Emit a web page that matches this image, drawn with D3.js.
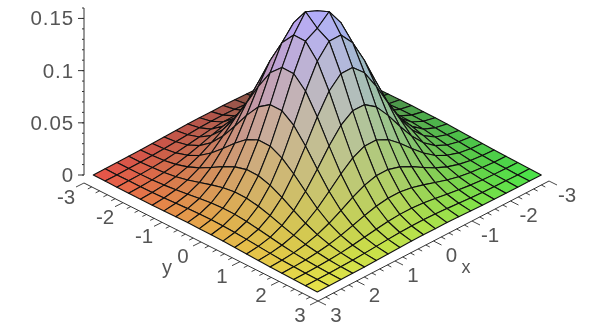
<!DOCTYPE html>
<html lang="en">
<head>
    <meta charset="UTF-8">
    <title>Surface plot</title>
    <style>
        html, body { margin: 0; padding: 0; background: #fff; }
        svg { display: block; }
        text { font-family: "Liberation Sans", Arial, sans-serif; fill: #555; }
    </style>
</head>
<body>
    <div id="chart"></div>
    <script src="https://d3js.org/d3.v7.min.js"></script>
    <script>
        // grid lines of the surface, same for x and y
        const gridX = [-3, -2.684, -2.368, -2.053, -1.737, -1.421, -1.105, -0.789, -0.474, -0.158, 0.158, 0.474, 0.789, 1.105, 1.421, 1.737, 2.053, 2.368, 2.684, 3];
        const gridY = [-3, -2.684, -2.368, -2.053, -1.737, -1.421, -1.105, -0.789, -0.474, -0.158, 0.158, 0.474, 0.789, 1.105, 1.421, 1.737, 2.053, 2.368, 2.684, 3];

        // surface height in thousandths, one row per gridX, one column per gridY
        const zMilli = [
            [0, .1, .1, .2, .4, .6, 1, 1.3, 1.6, 1.7, 1.7, 1.6, 1.3, 1, .6, .4, .2, .1, .1, 0],
            [.1, .1, .3, .5, 1, 1.6, 2.4, 3.2, 3.9, 4.3, 4.3, 3.9, 3.2, 2.4, 1.6, 1, .5, .3, .1, .1],
            [.1, .3, .6, 1.2, 2.1, 3.5, 5.2, 7, 8.6, 9.5, 9.5, 8.6, 7, 5.2, 3.5, 2.1, 1.2, .6, .3, .1],
            [.2, .5, 1.2, 2.4, 4.3, 7.1, 10.5, 14.2, 17.3, 19.1, 19.1, 17.3, 14.2, 10.5, 7.1, 4.3, 2.4, 1.2, .5, .2],
            [.4, 1, 2.1, 4.3, 7.8, 12.8, 19.1, 25.8, 31.5, 34.8, 34.8, 31.5, 25.8, 19.1, 12.8, 7.8, 4.3, 2.1, 1, .4],
            [.6, 1.6, 3.5, 7.1, 12.8, 21.1, 31.5, 42.4, 51.8, 57.3, 57.3, 51.8, 42.4, 31.5, 21.1, 12.8, 7.1, 3.5, 1.6, .6],
            [1, 2.4, 5.2, 10.5, 19.1, 31.5, 46.9, 63.3, 77.3, 85.4, 85.4, 77.3, 63.3, 46.9, 31.5, 19.1, 10.5, 5.2, 2.4, 1],
            [1.3, 3.2, 7, 14.2, 25.8, 42.4, 63.3, 85.3, 104.2, 115.1, 115.1, 104.2, 85.3, 63.3, 42.4, 25.8, 14.2, 7, 3.2, 1.3],
            [1.6, 3.9, 8.6, 17.3, 31.5, 51.8, 77.3, 104.2, 127.2, 140.5, 140.5, 127.2, 104.2, 77.3, 51.8, 31.5, 17.3, 8.6, 3.9, 1.6],
            [1.7, 4.3, 9.5, 19.1, 34.8, 57.3, 85.4, 115.1, 140.5, 152, 157, 140.5, 115.1, 85.4, 57.3, 34.8, 19.1, 9.5, 4.3, 1.7],
            [1.7, 4.3, 9.5, 19.1, 34.8, 57.3, 85.4, 115.1, 140.5, 157, 147, 140.5, 115.1, 85.4, 57.3, 34.8, 19.1, 9.5, 4.3, 1.7],
            [1.6, 3.9, 8.6, 17.3, 31.5, 51.8, 77.3, 104.2, 127.2, 140.5, 140.5, 127.2, 104.2, 77.3, 51.8, 31.5, 17.3, 8.6, 3.9, 1.6],
            [1.3, 3.2, 7, 14.2, 25.8, 42.4, 63.3, 85.3, 104.2, 115.1, 115.1, 104.2, 85.3, 63.3, 42.4, 25.8, 14.2, 7, 3.2, 1.3],
            [1, 2.4, 5.2, 10.5, 19.1, 31.5, 46.9, 63.3, 77.3, 85.4, 85.4, 77.3, 63.3, 46.9, 31.5, 19.1, 10.5, 5.2, 2.4, 1],
            [.6, 1.6, 3.5, 7.1, 12.8, 21.1, 31.5, 42.4, 51.8, 57.3, 57.3, 51.8, 42.4, 31.5, 21.1, 12.8, 7.1, 3.5, 1.6, .6],
            [.4, 1, 2.1, 4.3, 7.8, 12.8, 19.1, 25.8, 31.5, 34.8, 34.8, 31.5, 25.8, 19.1, 12.8, 7.8, 4.3, 2.1, 1, .4],
            [.2, .5, 1.2, 2.4, 4.3, 7.1, 10.5, 14.2, 17.3, 19.1, 19.1, 17.3, 14.2, 10.5, 7.1, 4.3, 2.4, 1.2, .5, .2],
            [.1, .3, .6, 1.2, 2.1, 3.5, 5.2, 7, 8.6, 9.5, 9.5, 8.6, 7, 5.2, 3.5, 2.1, 1.2, .6, .3, .1],
            [.1, .1, .3, .5, 1, 1.6, 2.4, 3.2, 3.9, 4.3, 4.3, 3.9, 3.2, 2.4, 1.6, 1, .5, .3, .1, .1],
            [0, .1, .1, .2, .4, .6, 1, 1.3, 1.6, 1.7, 1.7, 1.6, 1.3, 1, .6, .4, .2, .1, .1, 0]
        ];

        const xTicks = [-3, -2, -1, 0, 1, 2, 3];
        const yTicks = [-3, -2, -1, 0, 1, 2, 3];
        const zTicks = [0, 0.05, 0.1, 0.15];
        const zTickLabels = ["0", "0.05", "0.1", "0.15"];

        const width = 590;
        const height = 327;

        const svg = d3.select("#chart").append("svg")
            .attr("width", width)
            .attr("height", height);

        // jpeg softness of the original
        svg.append("filter").attr("id", "soft")
            .attr("filterUnits", "userSpaceOnUse")
            .attr("x", 0).attr("y", 0)
            .attr("width", width).attr("height", height)
            .append("feGaussianBlur").attr("stdDeviation", 0.65);

        const root = svg.append("g").attr("filter", "url(#soft)");

        // oblique projection of the base plane
        const acrossScale = d3.scaleLinear().domain([-3, 3]).range([-112, 112]);
        const depthScale = d3.scaleLinear().domain([-3, 3]).range([-58.5, 58.5]);
        const liftScale = d3.scaleLinear().domain([0, 0.15]).range([0, 156]);

        const px = (x, y) => 317.3 + acrossScale(y) - acrossScale(x);
        const py = (x, y, z) => 175 + depthScale(x) + depthScale(y) - liftScale(z);

        // xyz shading
        const redScale = d3.scaleLinear().domain([-3, 0, 3]).range([72, 178, 232]);
        const greenScale = d3.scaleLinear().domain([-3, 0, 3]).range([82, 172, 228]);
        const blueScale = d3.scaleLinear().domain([0, 0.159]).range([72, 255]);

        // cells back to front
        const cells = [];
        for (let i = 0; i < gridX.length - 1; i++) {
            for (let j = 0; j < gridY.length - 1; j++) {
                cells.push({ i: i, j: j });
            }
        }
        cells.sort((a, b) => (a.i + a.j) - (b.i + b.j));

        const cellPoints = function(d) {
            const corners = [[d.i, d.j], [d.i + 1, d.j], [d.i + 1, d.j + 1], [d.i, d.j + 1]];
            return corners.map(c => {
                const z = zMilli[c[0]][c[1]] / 1000;
                return [px(gridX[c[0]], gridY[c[1]]), py(gridX[c[0]], gridY[c[1]], z)].join(",");
            }).join(" ");
        };

        const cellColor = function(d) {
            const x = (gridX[d.i] + gridX[d.i + 1]) / 2;
            const y = (gridY[d.j] + gridY[d.j + 1]) / 2;
            const z = (zMilli[d.i][d.j] + zMilli[d.i + 1][d.j] + zMilli[d.i][d.j + 1] + zMilli[d.i + 1][d.j + 1]) / 4000;
            return d3.rgb(redScale(x), greenScale(y), blueScale(z)).formatHex();
        };

        root.append("g").selectAll("polygon")
            .data(cells)
            .enter().append("polygon")
            .attr("points", cellPoints)
            .attr("fill", cellColor)
            .attr("stroke", "#111")
            .attr("stroke-width", 1.1)
            .attr("stroke-linejoin", "round");

        // z axis
        const zAxisScale = d3.scaleLinear().domain([0, 0.16]).range([175, 8]);
        const zAxis = root.append("g");
        zAxis.append("line")
            .attr("x1", 84).attr("x2", 84)
            .attr("y1", zAxisScale(0)).attr("y2", zAxisScale(0.16))
            .attr("stroke", "#333").attr("stroke-width", 1);
        zAxis.selectAll(".minor")
            .data(d3.range(0, 17).map(d => d / 100))
            .enter().append("line")
            .attr("x1", 82).attr("x2", 84)
            .attr("y1", d => zAxisScale(d)).attr("y2", d => zAxisScale(d))
            .attr("stroke", "#333");
        zAxis.selectAll(".major")
            .data(zTicks)
            .enter().append("line")
            .attr("x1", 78).attr("x2", 84)
            .attr("y1", d => zAxisScale(d)).attr("y2", d => zAxisScale(d))
            .attr("stroke", "#333");
        zAxis.selectAll("text")
            .data(zTicks)
            .enter().append("text")
            .attr("x", 74)
            .attr("y", d => zAxisScale(d) + 7)
            .attr("text-anchor", "end")
            .attr("font-size", 20.5)
            .attr("letter-spacing", 0.9)
            .text((d, i) => zTickLabels[i]);

        // base axes, ticks run along the other base direction
        const drawBaseAxis = function(tickValues, posX, posY, tickDx, tickDy, labelDx, labelDy) {
            const g = root.append("g");
            g.append("line")
                .attr("x1", posX(-3)).attr("x2", posX(3))
                .attr("y1", posY(-3)).attr("y2", posY(3))
                .attr("stroke", "#333").attr("stroke-width", 1);
            g.selectAll(".minor")
                .data(d3.range(-15, 16).map(d => d / 5))
                .enter().append("line")
                .attr("x1", d => posX(d)).attr("y1", d => posY(d))
                .attr("x2", d => posX(d) + tickDx * (Number.isInteger(d) ? 2 : 1))
                .attr("y2", d => posY(d) + tickDy * (Number.isInteger(d) ? 2 : 1))
                .attr("stroke", "#333").attr("stroke-width", 0.9);
            g.selectAll("text")
                .data(tickValues)
                .enter().append("text")
                .attr("x", d => posX(d) + labelDx)
                .attr("y", d => posY(d) + labelDy)
                .attr("text-anchor", "middle")
                .attr("font-size", 20.5)
                .text(d => d);
        };

        drawBaseAxis(yTicks,
            d3.scaleLinear().domain([-3, 3]).range([84, 318]),
            d3.scaleLinear().domain([-3, 3]).range([183, 301]),
            -4, 2, -18, 21);
        drawBaseAxis(xTicks,
            d3.scaleLinear().domain([-3, 3]).range([549, 318]),
            d3.scaleLinear().domain([-3, 3]).range([181, 301]),
            4, 2, 18, 21);

        root.append("text").attr("x", 167).attr("y", 274).attr("text-anchor", "middle").attr("font-size", 20).text("y");
        root.append("text").attr("x", 466).attr("y", 273).attr("text-anchor", "middle").attr("font-size", 18).text("x");
    </script>
</body>
</html>
